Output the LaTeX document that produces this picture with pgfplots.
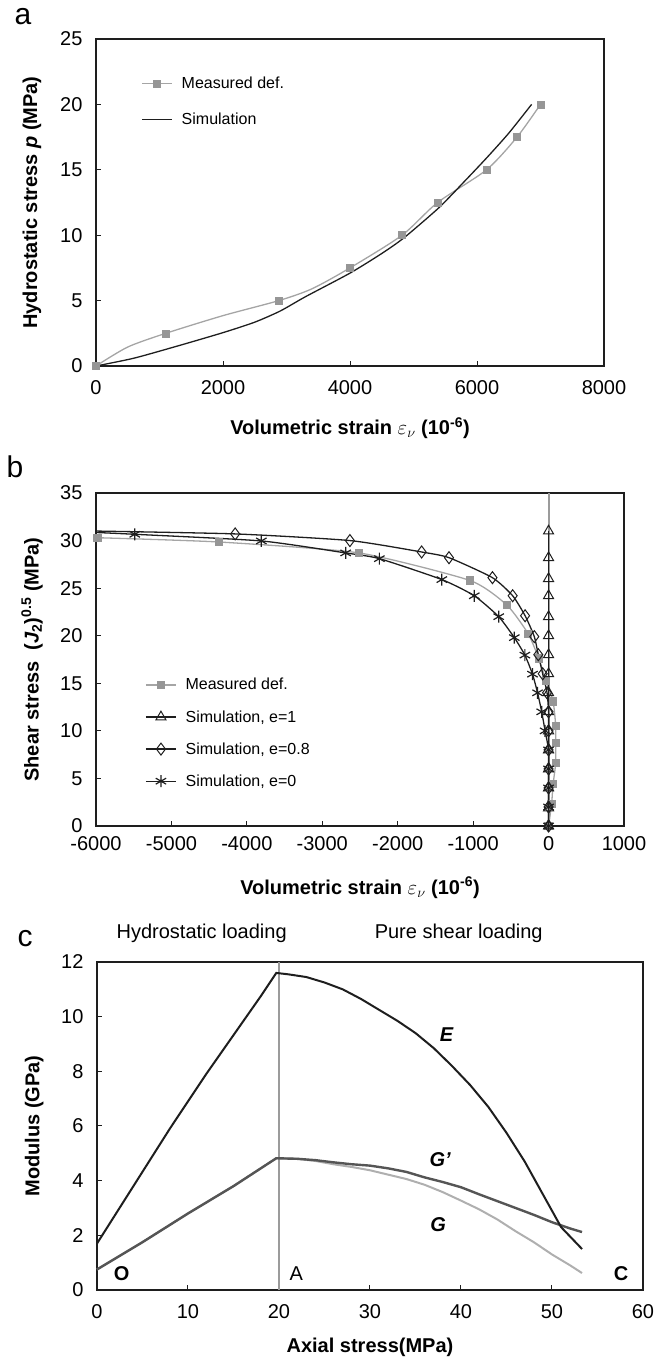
\documentclass[border=0pt]{standalone}
\usepackage{fontspec}
\setmainfont{Liberation Sans}
\usepackage{pgfplots}
\pgfplotsset{compat=1.18}
\definecolor{measgray}{RGB}{165,165,165}
\definecolor{sqgray}{RGB}{150,150,150}
\definecolor{vgray}{RGB}{155,155,155}
\definecolor{gpdark}{RGB}{85,85,85}
\definecolor{glight}{RGB}{175,175,175}
\definecolor{ink}{RGB}{30,30,30}
\pgfplotsset{
  legend image code/.code={\draw[mark repeat=2,mark phase=2,#1] plot coordinates {(0pt,0pt) (15pt,0pt) (30pt,0pt)};},
  myaxis/.style={
    scale only axis,
    axis line style={line width=1.3pt, ink},
    tick pos=left, tick align=inside, major tick length=5pt,
    tick style={line width=1pt, ink},
    tick label style={font=\fontsize{20}{22}\selectfont},
    yticklabel style={xshift=-10pt},
    /pgf/number format/assume math mode=true,
    /pgf/number format/1000 sep={},
    label style={font=\bfseries\fontsize{20}{22}\selectfont},
    legend style={draw=none, fill=none, font=\fontsize{16}{18}\selectfont, inner sep=0pt, column sep=7pt, cells={anchor=west}},
    legend cell align=left,
  }
}
\begin{document}
\begin{tikzpicture}
\path (0pt,0pt) rectangle (661pt,1361pt);
\node[font=\fontsize{30}{32}\selectfont, anchor=base] at (23pt,1336pt) {a};
\node[font=\fontsize{30}{32}\selectfont, anchor=base] at (15pt,883pt) {b};
\node[font=\fontsize{30}{32}\selectfont, anchor=base] at (25pt,414pt) {c};

% ---------------- panel a
\begin{axis}[myaxis, at={(96pt,995pt)}, anchor=south west, width=508pt, height=327pt,
  xmin=0, xmax=8000, ymin=0, ymax=25,
  xtick={0,2000,...,8000}, ytick={0,5,...,25},
  xticklabel style={yshift=-11pt},
  xlabel={Volumetric strain $\varepsilon_\nu$ (10\textsuperscript{-6})},
  ylabel={Hydrostatic stress \textit{p} (MPa)},
  xlabel style={at={(axis description cs:0.5,-0.19)}, anchor=center},
  ylabel style={at={(axis description cs:-0.126,0.5)}, anchor=center},
  legend style={at={(0.089,0.89)}, anchor=north west, row sep=19pt},
]
\addplot[color=measgray, line width=1.3pt, smooth, tension=0.45, forget plot]
  coordinates {(0,0) (500,1.45) (1100,2.5) (2000,3.85) (2880,5) (3400,5.9) (4000,7.5) (4820,10) (5380,12.5) (6150,15) (6630,17.5) (7000,20)};
\addplot[only marks, mark=square*, mark size=3.5pt, mark options={fill=sqgray, draw=sqgray}, forget plot]
  coordinates {(0,0) (1100,2.5) (2880,5) (4000,7.5) (4820,10) (5380,12.5) (6150,15) (6630,17.5) (7000,20)};
\addlegendimage{color=measgray, line width=1.3pt, mark=square*, mark size=3.5pt, mark options={fill=sqgray, draw=sqgray}}
\addlegendentry{Measured def.}
\addplot[color=ink, line width=1.3pt, smooth, tension=0.4]
  coordinates {(0,0) (600,0.6) (1300,1.55) (2000,2.55) (2500,3.35) (2900,4.2) (3300,5.3) (4000,7.1) (4500,8.6) (4850,9.8) (5400,12.1) (5800,14.1) (6150,15.9) (6500,17.8) (6860,20)};
\addlegendentry{Simulation}
\end{axis}

% ---------------- panel b
\begin{axis}[myaxis, at={(96pt,535pt)}, anchor=south west, width=528pt, height=333pt,
  xmin=-6000, xmax=1000, ymin=0, ymax=35,
  xtick={-6000,-5000,...,1000}, ytick={0,5,...,35},
  xticklabel style={yshift=-7pt},
  xlabel={Volumetric strain $\varepsilon_\nu$ (10\textsuperscript{-6})},
  ylabel={Shear stress\ \ (\textit{J}\textsubscript{2})\textsuperscript{0.5} (MPa)},
  xlabel style={at={(axis description cs:0.5,-0.186)}, anchor=center},
  ylabel style={at={(axis description cs:-0.121,0.5)}, anchor=center},
  legend style={at={(0.093,0.45)}, anchor=north west, row sep=15pt},
]
\addplot[color=vgray, line width=2pt, forget plot] coordinates {(0,0) (0,35)};
\addplot[color=measgray, line width=1.3pt, smooth, tension=0.35, mark=square*, mark size=3.5pt, mark options={fill=sqgray, draw=sqgray}]
  coordinates {(0,0) (40,2.3) (60,4.4) (95,6.6) (95,8.75) (95,10.5) (60,13.1) (-35,15.3) (-130,17.6) (-270,20.2) (-550,23.2) (-1040,25.8) (-2510,28.7) (-4370,29.85) (-5980,30.3)};
\addlegendentry{Measured def.}
\addplot[color=ink, line width=1.3pt, mark=triangle, mark size=5.8pt, mark options={fill=white, solid, line width=1pt}]
  coordinates {(0,0) (0,1.9) (0,4) (0,6) (0,8) (0,10) (0,12) (0,14) (0,16) (0,18) (0,20) (0,22) (0,24.2) (0,26) (0,28.2) (0,31)};
\addlegendentry{Simulation, e=1}
\addplot[color=ink, line width=1.3pt, smooth, tension=0.35, mark=diamond, mark size=6pt, mark phase=2, mark repeat=1, mark options={fill=white, solid, line width=1pt}]
  coordinates {(-6000,31.0) (-4155,30.7) (-2634,30.0) (-1683,28.8) (-1320,28.2) (-744,26.1) (-476,24.2) (-311,22.1) (-189,19.9) (-136,18.0) (-78,16.0) (-20,14) (0,12) (0,10) (0,8) (0,6) (0,4) (0,2) (0,0)};
\addlegendentry{Simulation, e=0.8}
\addplot[color=ink, line width=1.3pt, smooth, tension=0.35, mark=asterisk, mark size=6pt, mark phase=2, mark repeat=1, mark options={solid, line width=1.2pt}]
  coordinates {(-6000,30.85) (-5486,30.66) (-3808,29.96) (-2690,28.7) (-2243,28.1) (-1415,25.9) (-985,24.2) (-661,22.0) (-454,19.8) (-314,17.96) (-213,15.96) (-146,14.0) (-91,12.0) (-46,10.0) (0,8) (0,6) (0,4) (0,2) (0,0)};
\addlegendentry{Simulation, e=0}
\end{axis}

% ---------------- panel c
\begin{axis}[myaxis, at={(97pt,71pt)}, anchor=south west, width=546pt, height=328pt,
  xmin=0, xmax=60, ymin=0, ymax=12, clip=false,
  xtick={0,10,...,60}, ytick={0,2,...,12},
  xticklabel style={yshift=-11pt},
  xlabel={Axial stress(MPa)},
  ylabel={Modulus (GPa)},
  xlabel style={at={(axis description cs:0.5,-0.174)}, anchor=center},
  ylabel style={at={(axis description cs:-0.115,0.5)}, anchor=center},
]
\addplot[color=vgray, line width=2pt] coordinates {(20,0) (20,12)};
\addplot[color=glight, line width=2pt] coordinates {(0,0.75) (5,1.75) (10,2.8) (15,3.8) (19.7,4.82) (22,4.8) (24,4.72) (26,4.6) (28,4.5) (30,4.38) (32,4.22) (34,4.06) (36,3.85) (38,3.58) (40,3.27) (42,2.95) (44,2.58) (46,2.15) (48,1.75) (50,1.3) (52,0.9) (53.3,0.62)};
\addplot[color=gpdark, line width=2.4pt] coordinates {(0,0.75) (5,1.75) (10,2.8) (15,3.8) (19.7,4.82) (22,4.8) (24,4.75) (26,4.67) (28,4.6) (30,4.55) (32,4.45) (34,4.32) (36,4.12) (38,3.95) (40,3.76) (42,3.5) (44,3.25) (46,3.0) (48,2.75) (50,2.48) (52,2.25) (53.3,2.12)};
\addplot[color=ink, line width=2pt] coordinates {(0,1.7) (2,2.75) (4,3.8) (6,4.85) (8,5.9) (10,6.9) (12,7.9) (14,8.85) (16,9.8) (18,10.75) (19.7,11.6) (21,11.55) (23,11.45) (25,11.25) (27,11.0) (29,10.65) (31,10.25) (33,9.85) (35,9.4) (37,8.85) (39,8.2) (41,7.5) (43,6.7) (45,5.75) (47,4.7) (49,3.5) (51,2.3) (53.3,1.5)};
\node[font=\bfseries\itshape\fontsize{20}{22}\selectfont] at (axis cs:38.4,9.34) {E};
\node[font=\bfseries\itshape\fontsize{20}{22}\selectfont] at (axis cs:37.7,4.76) {G'};
\node[font=\bfseries\itshape\fontsize{20}{22}\selectfont] at (axis cs:37.5,2.38) {G};
\node[font=\bfseries\fontsize{20}{22}\selectfont] at (axis cs:2.7,0.61) {O};
\node[font=\fontsize{20}{22}\selectfont] at (axis cs:21.9,0.61) {A};
\node[font=\bfseries\fontsize{20}{22}\selectfont] at (axis cs:57.6,0.61) {C};
\node[font=\fontsize{20}{22}\selectfont] at (axis cs:11.5,13.04) {Hydrostatic loading};
\node[font=\fontsize{20}{22}\selectfont] at (axis cs:39.75,13.04) {Pure shear loading};
\end{axis}
\end{tikzpicture}
\end{document}
